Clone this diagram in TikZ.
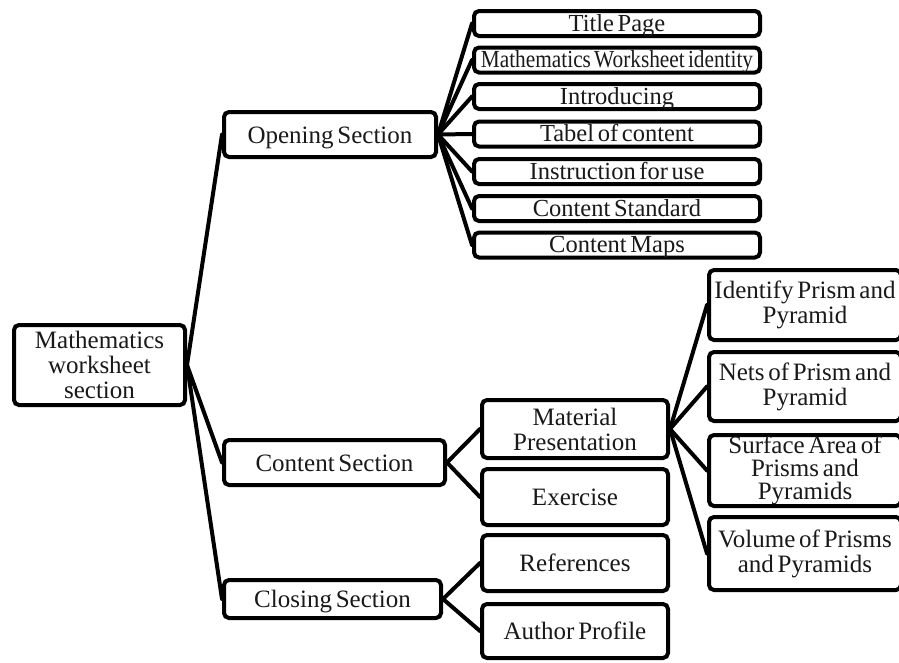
\documentclass[tikz,border=0pt]{standalone}
\usepackage{fontspec}
\setmainfont{Liberation Serif}[WordSpace=0.6]
\begin{document}
\begin{tikzpicture}[x=1pt,y=-1pt,
  box/.style={draw=black, line width=4pt, rounded corners=5pt, fill=white,
    align=center, inner sep=0pt, text=black!90,
    font=\fontsize{25}{25}\selectfont},
  one/.style={box, text height=20pt, text depth=3pt},
  opn/.style={box, text height=19pt, text depth=4pt, font=\fontsize{24.5}{25}\selectfont,
    minimum width=286pt, minimum height=25pt},
  mid/.style={box, minimum width=186pt},
  rgt/.style={box, minimum width=192pt},
  link/.style={line width=4pt, line cap=round}]
\useasboundingbox (0,0) rectangle (899,662);

% nodes
\node[box, minimum width=171pt, minimum height=80pt] (root) at (99.5,365) {Mathematics\\worksheet\\section};
\node[one, minimum width=212pt, minimum height=45pt] (open) at (330,134.5) {Opening Section};
\node[one, minimum width=221pt, minimum height=45pt] (cont) at (334.5,462.5) {Content Section};
\node[one, minimum width=217pt, minimum height=38pt] (clos) at (332.5,599) {Closing Section};

\node[opn] (o1) at (617,23.5) {Title Page};
\node[opn] (o2) at (617,60) {\scalebox{0.87}[1]{Mathematics Worksheet identity}};
\node[opn] (o3) at (617,96.5) {Introducing};
\node[opn] (o4) at (617,134) {Tabel of content};
\node[opn] (o5) at (617,171.5) {Instruction for use};
\node[opn] (o6) at (617,208.5) {Content Standard};
\node[opn] (o7) at (617,245) {Content Maps};

\node[mid, minimum height=58pt] (mat) at (575,429) {Material\\Presentation};
\node[mid, one, minimum height=56pt] (exe) at (575,497) {Exercise};
\node[mid, one, minimum height=56pt] (ref) at (575,563) {References};
\node[mid, one, minimum height=54pt] (aut) at (575,631) {Author Profile};

\node[rgt, minimum height=70pt] (r1) at (805,305) {Identify Prism and\\Pyramid};
\node[rgt, minimum height=69pt] (r2) at (805,386.5) {Nets of Prism and\\Pyramid};
\node[rgt, minimum height=71pt, font=\fontsize{25}{23}\selectfont] (r3) at (805,470.5) {Surface Area of\\Prisms and\\Pyramids};
\node[rgt, minimum height=73pt] (r4) at (805,553.5) {Volume of Prisms\\and Pyramids};

% connectors
\foreach \c in {open,cont,clos} \draw[link] (root.east) -- (\c.west);
\foreach \c in {o1,o2,o3,o4,o5,o6,o7} \draw[link] (open.east) -- (\c.west);
\foreach \c in {mat,exe} \draw[link] (cont.east) -- (\c.west);
\foreach \c in {ref,aut} \draw[link] (clos.east) -- (\c.west);
\foreach \c in {r1,r2,r3,r4} \draw[link] (mat.east) -- (\c.west);
\end{tikzpicture}
\end{document}
